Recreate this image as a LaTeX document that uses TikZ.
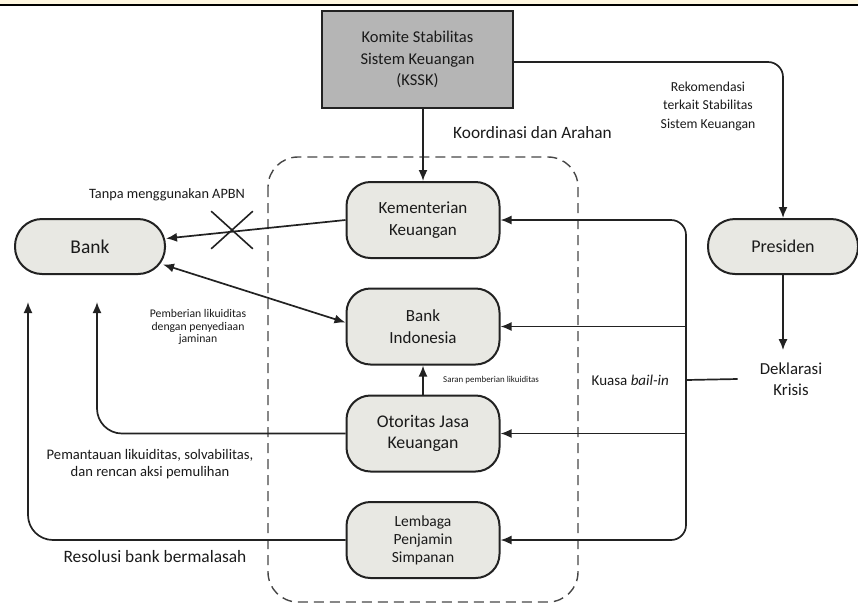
\documentclass[tikz,border=0pt]{standalone}
\usepackage{fontspec}
\setmainfont{Carlito}
\usetikzlibrary{arrows.meta,shapes.misc,calc}
\definecolor{nodefill}{HTML}{E8E8E3}
\definecolor{ksskfill}{HTML}{B5B5B5}
\definecolor{linecol}{HTML}{222222}
\definecolor{band}{HTML}{FFF7E0}
\definecolor{txt}{HTML}{1A1A1A}
\begin{document}
\begin{tikzpicture}[x=1pt,y=-1pt,
  box/.style={draw=linecol, line width=2pt, fill=nodefill, rounded corners=24pt, minimum width=153pt, minimum height=76pt, align=center, inner sep=0pt, text=txt},
  pill/.style={draw=linecol, line width=2pt, fill=nodefill, rounded corners=27pt, minimum width=150pt, minimum height=55pt, align=center, inner sep=0pt, text=txt},
  conn/.style={draw=linecol, line width=1.7pt},
  tip/.tip={Latex[length=11pt,width=9pt]},
  arr/.style={conn, -tip},
  lbl/.style={align=center, inner sep=0pt, text=txt}
]
\useasboundingbox (0,0) rectangle (858,606);
% top band
\fill[band] (0,0) rectangle (858,5);
\draw[black, line width=1.5pt] (0,5) -- (858,5);

% dashed frame
\draw[gray!55!black, line width=1.4pt, dash pattern=on 10pt off 6pt, rounded corners=30pt] (268,157) rectangle (578,602);

% nodes
\node[draw=linecol, line width=2.4pt, fill=ksskfill, minimum width=191pt, minimum height=97pt, align=center, inner sep=0pt, text=txt, font=\fontsize{16.5}{21.5}\selectfont] (kssk) at (417.5,59.5) {Komite Stabilitas\\Sistem Keuangan\\(KSSK)};
\node[box, font=\fontsize{17}{22}\selectfont] (kem) at (423,220) {Kementerian\\Keuangan};
\node[box, font=\fontsize{17}{22}\selectfont] (bi) at (423,326.5) {Bank\\Indonesia};
\node[box, font=\fontsize{17.8}{21}\selectfont] (ojk) at (423,433.5) {Otoritas Jasa\\Keuangan};
\node[box, font=\fontsize{15.5}{18}\selectfont] (lps) at (423,540) {Lembaga\\Penjamin\\Simpanan};
\node[pill, font=\fontsize{19.5}{23}\selectfont] (bank) at (90,246.5) {Bank};
\node[pill, font=\fontsize{18}{22}\selectfont] (pres) at (783,246.5) {Presiden};
\node[lbl, inner xsep=22pt, inner ysep=12pt, font=\fontsize{16.8}{21.5}\selectfont] (dek) at (791,379) {Deklarasi\\Krisis};

% labels
\node[lbl, anchor=west, font=\fontsize{17.3}{20}\selectfont] (koord) at (453,133) {Koordinasi dan Arahan};
\node[lbl, font=\fontsize{13.7}{18.5}\selectfont] (rek) at (708,106) {Rekomendasi\\terkait Stabilitas\\Sistem Keuangan};
\node[lbl, font=\fontsize{14.3}{16}\selectfont] (tanpa) at (167,195) {Tanpa menggunakan APBN};
\node[lbl, font=\fontsize{11.7}{12.7}\selectfont] (pemb) at (198,327) {Pemberian likuiditas\\dengan penyediaan\\jaminan};
\node[lbl, anchor=west, font=\fontsize{8.9}{10}\selectfont] (saran) at (443,380) {Saran pemberian likuiditas};
\node[lbl, anchor=east, font=\fontsize{15}{16}\selectfont] (kuasa) at (669,380) {Kuasa \textit{bail-in}};
\node[lbl, font=\fontsize{14.6}{17.7}\selectfont] (pemant) at (150,464) {Pemantauan likuiditas, solvabilitas,\\dan rencan aksi pemulihan};
\node[lbl, font=\fontsize{17.4}{21}\selectfont] (resol) at (155,557) {Resolusi bank bermalasah};

% connectors
\draw[arr] (kem.north |- kssk.south) -- (kem.north);
\draw[arr, rounded corners=15pt] (kssk.east |- 0,62) -| (pres.north);
\draw[arr] (pres.south) -- (pres.south |- dek.north);

\coordinate (bus) at (686,380);
\draw[conn] (dek.west) -- (bus);
\draw[arr, rounded corners=15pt] (bus) |- (kem.east);
\draw[arr, rounded corners=15pt] (bus) |- (lps.east);
\draw[arr] (bus |- bi.east) -- (bi.east);
\draw[arr] (bus |- ojk.east) -- (ojk.east);

\draw[arr] (ojk.north) -- (bi.south);

\draw[arr] (kem.west) -- ($(bank.east)+(0,-8)$);
\node[cross out, draw=linecol, line width=1.6pt, minimum width=40pt, minimum height=36pt, inner sep=0pt] (cross) at (232,230) {};
\draw[conn, tip-tip] ($(bank.east)+(-3,18)$) -- ($(bi.west)+(0,-4)$);

\coordinate (ojkup) at (97,302);
\coordinate (lpsup) at (28,302);
\draw[arr, rounded corners=25pt] (ojk.west) -| (ojkup);
\draw[arr, rounded corners=25pt] (lps.west) -| (lpsup);
\end{tikzpicture}
\end{document}
